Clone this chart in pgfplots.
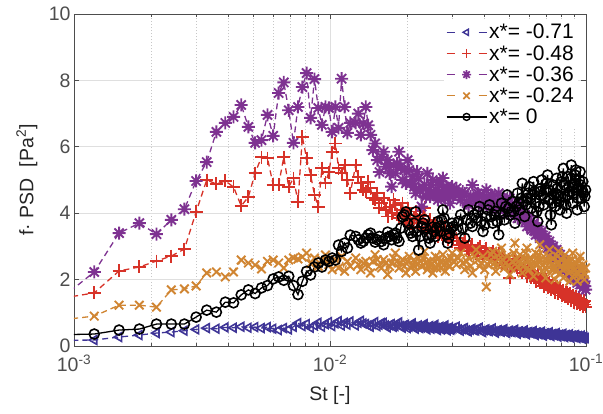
\documentclass[border=0pt]{standalone}
\usepackage{pgfplots}
\pgfplotsset{compat=1.18}
\usepackage{pgfplotstable}
\usepackage{fontspec}
\setmainfont{Liberation Sans}

\definecolor{cblue}{RGB}{62,52,150}
\definecolor{cred}{RGB}{215,50,40}
\definecolor{cpurple}{RGB}{126,50,145}
\definecolor{corange}{RGB}{208,133,50}
\definecolor{tickgray}{RGB}{77,77,77}
\definecolor{gridgray}{RGB}{223,223,223}

% 8-armed asterisk like the MATLAB '*' marker
\pgfdeclareplotmark{ast8}{%
  \pgfpathmoveto{\pgfqpoint{-\pgfplotmarksize}{0pt}}%
  \pgfpathlineto{\pgfqpoint{\pgfplotmarksize}{0pt}}%
  \pgfpathmoveto{\pgfqpoint{0pt}{-\pgfplotmarksize}}%
  \pgfpathlineto{\pgfqpoint{0pt}{\pgfplotmarksize}}%
  \pgfpathmoveto{\pgfqpoint{-0.707\pgfplotmarksize}{-0.707\pgfplotmarksize}}%
  \pgfpathlineto{\pgfqpoint{0.707\pgfplotmarksize}{0.707\pgfplotmarksize}}%
  \pgfpathmoveto{\pgfqpoint{-0.707\pgfplotmarksize}{0.707\pgfplotmarksize}}%
  \pgfpathlineto{\pgfqpoint{0.707\pgfplotmarksize}{-0.707\pgfplotmarksize}}%
  \pgfusepathqstroke}

% columns: St, x*=-0.71, -0.48, -0.36, -0.24, 0
\pgfplotstableread{
x b r p o k
0.0009 0.17 1.44 1.46 0.79 0.34
0.0012 0.18 1.60 2.23 0.90 0.36
0.0015 0.27 2.26 3.40 1.23 0.48
0.0018 0.33 2.38 3.70 1.23 0.51
0.0021 0.39 2.56 3.37 1.17 0.66
0.0024 0.42 2.71 3.80 1.69 0.66
0.0027 0.46 2.92 4.12 1.72 0.66
0.0030 0.50 4.04 4.97 1.81 0.87
0.0033 0.54 5.00 5.54 2.20 1.08
0.0036 0.52 4.88 6.45 2.23 1.02
0.0039 0.56 4.97 6.72 2.08 1.32
0.0042 0.55 4.79 6.90 2.23 1.30
0.0045 0.58 4.22 7.26 2.59 1.54
0.0048 0.55 4.49 6.60 2.50 1.69
0.0051 0.57 5.21 6.12 2.44 1.58
0.0054 0.54 5.69 6.20 2.32 1.75
0.0057 0.57 5.66 6.96 2.55 1.82
0.0060 0.52 4.85 6.33 2.59 2.02
0.0063 0.48 4.85 7.62 2.50 2.08
0.0066 0.54 5.69 7.94 2.35 1.98
0.0069 0.50 4.79 7.10 2.59 2.10
0.0072 0.58 5.06 6.12 2.65 1.82
0.0075 0.69 4.34 7.20 2.62 1.55
0.0078 0.60 6.30 7.80 2.68 1.95
0.0081 0.66 5.66 8.22 2.80 2.25
0.0084 0.55 5.15 6.87 2.48 2.14
0.0087 0.62 4.55 8.04 2.65 2.38
0.0090 0.70 4.19 7.17 2.40 2.50
0.0093 0.58 5.36 6.66 2.59 2.38
0.0096 0.66 4.91 7.20 2.74 2.59
0.0099 0.72 5.24 7.17 2.45 2.55
0.0102 0.60 5.84 6.45 2.30 2.65
0.0105 0.68 6.10 7.20 2.60 2.59
0.0108 0.75 5.36 6.57 2.35 3.04
0.0111 0.62 5.20 8.05 2.70 2.85
0.0114 0.70 5.45 7.20 2.25 3.10
0.0117 0.64 5.00 6.42 2.55 2.95
0.0120 0.74 4.60 6.72 2.40 3.34
0.0126 0.62 5.45 6.72 2.65 3.30
0.0129 0.70 5.10 7.00 2.45 3.20
0.0132 0.76 4.90 6.36 2.30 3.10
0.0135 0.68 4.70 6.70 2.50 3.15
0.0138 0.66 4.64 7.20 2.55 3.25
0.0141 0.62 4.95 6.65 2.40 3.35
0.0144 0.58 4.75 6.36 2.20 3.40
0.0147 0.66 4.45 5.90 2.55 3.25
0.0150 0.72 4.40 6.10 2.75 3.13
0.0153 0.60 4.60 5.60 2.60 3.20
0.0156 0.64 4.16 5.24 2.40 3.30
0.0159 0.69 4.30 5.70 2.35 3.15
0.0162 0.70 4.45 5.85 2.60 3.05
0.0165 0.62 4.10 5.40 2.50 3.25
0.0168 0.56 3.90 5.60 2.15 3.43
0.0171 0.63 4.20 5.20 2.40 3.30
0.0174 0.66 4.00 4.80 2.50 3.20
0.0177 0.58 4.40 5.45 2.65 3.35
0.0180 0.60 4.25 5.20 2.80 3.40
0.0183 0.66 3.95 5.50 2.55 3.25
0.0186 0.71 3.85 5.85 2.35 3.15
0.0189 0.60 4.10 5.40 2.50 3.55
0.0192 0.55 4.30 5.00 2.60 3.89
0.0195 0.62 3.90 5.30 2.40 3.95
0.0198 0.64 3.75 4.90 2.20 4.04
0.0201 0.54 4.15 5.60 2.55 3.70
0.0204 0.58 3.95 5.30 2.70 3.49
0.0207 0.63 3.70 4.90 2.35 3.40
0.0210 0.68 3.60 5.10 2.45 3.30
0.0213 0.58 3.85 4.80 2.60 3.70
0.0216 0.52 4.05 4.60 2.25 4.04
0.0219 0.59 3.80 5.25 2.45 3.45
0.0222 0.62 3.70 5.05 2.65 2.89
0.0225 0.54 3.95 4.70 2.55 3.30
0.0228 0.56 3.55 4.20 2.40 3.60
0.0231 0.62 3.90 4.75 2.65 3.70
0.0234 0.66 4.16 4.85 2.85 3.80
0.0237 0.56 3.60 4.50 2.50 3.55
0.0240 0.50 3.50 5.20 2.30 3.35
0.0243 0.57 3.75 4.70 2.40 3.25
0.0246 0.60 3.80 4.50 2.55 3.10
0.0249 0.52 3.55 4.85 2.45 3.35
0.0252 0.55 3.40 5.00 2.20 3.58
0.0255 0.60 3.70 4.60 2.55 3.45
0.0258 0.64 3.65 4.70 2.70 3.30
0.0261 0.54 3.45 4.55 2.35 3.55
0.0264 0.48 3.30 4.40 2.45 3.75
0.0267 0.55 3.50 4.85 2.65 3.60
0.0270 0.58 3.55 4.95 2.35 3.45
0.0273 0.50 3.40 4.60 2.50 3.80
0.0276 0.52 3.25 5.06 2.75 4.10
0.0279 0.58 3.45 4.50 2.45 3.85
0.0282 0.62 3.60 4.45 2.25 3.60
0.0285 0.52 3.30 4.80 2.50 3.35
0.0288 0.47 3.20 4.75 2.60 3.10
0.0291 0.53 3.40 4.55 2.40 3.25
0.0294 0.56 3.45 4.30 2.40 3.40
0.0297 0.49 3.30 4.65 2.65 3.55
0.0300 0.51 3.15 4.80 2.80 3.70
0.0303 0.54 3.25 4.50 2.55 3.60
0.0312 0.58 3.25 4.75 2.45 3.50
0.0318 0.50 3.05 4.55 2.65 3.75
0.0324 0.46 2.95 4.40 2.80 3.95
0.0330 0.51 3.10 4.65 2.50 3.55
0.0336 0.54 3.15 4.60 2.30 3.25
0.0342 0.47 2.95 4.30 2.55 3.80
0.0348 0.44 2.85 4.25 2.65 4.10
0.0354 0.49 3.00 4.50 2.40 3.70
0.0360 0.52 3.05 4.85 2.20 3.60
0.0366 0.48 2.85 4.45 2.70 3.95
0.0372 0.47 2.80 4.35 2.90 3.85
0.0378 0.52 2.95 4.60 2.60 4.05
0.0384 0.55 3.00 4.55 2.40 4.20
0.0390 0.45 2.80 4.30 2.50 3.75
0.0396 0.42 2.70 4.20 2.70 3.45
0.0402 0.48 2.85 4.45 2.30 3.65
0.0408 0.50 2.95 4.70 1.78 3.90
0.0414 0.46 2.75 4.40 2.45 4.10
0.0420 0.45 2.65 4.30 2.55 4.25
0.0426 0.50 2.80 4.55 2.75 3.90
0.0432 0.53 2.85 4.50 2.85 3.70
0.0438 0.44 2.70 4.25 2.50 3.95
0.0444 0.40 2.60 4.10 2.25 4.05
0.0450 0.46 2.72 4.35 2.45 3.75
0.0456 0.48 2.80 4.60 2.60 3.35
0.0462 0.45 2.62 4.30 2.80 3.95
0.0468 0.43 2.50 4.20 2.95 4.30
0.0474 0.48 2.65 4.45 2.60 4.00
0.0480 0.51 2.70 4.40 2.35 3.80
0.0486 0.42 2.55 4.15 2.50 4.20
0.0492 0.39 2.45 4.00 2.70 4.55
0.0498 0.44 2.62 4.30 2.40 4.15
0.0504 0.46 2.05 4.45 2.15 3.95
0.0510 0.43 2.45 4.20 2.35 4.05
0.0516 0.42 2.40 4.05 2.55 4.35
0.0522 0.46 2.50 4.10 2.80 4.05
0.0528 0.49 2.60 4.25 3.10 3.70
0.0534 0.41 2.42 4.05 2.60 4.20
0.0540 0.37 2.30 3.85 2.40 4.60
0.0546 0.43 2.45 4.00 2.55 4.30
0.0552 0.44 2.50 4.20 2.75 4.10
0.0558 0.40 2.32 3.95 2.45 4.45
0.0564 0.40 2.20 3.80 2.20 4.90
0.0570 0.44 2.35 3.85 2.40 4.35
0.0576 0.47 2.40 3.95 2.65 3.90
0.0582 0.39 2.22 3.75 2.80 4.25
0.0588 0.35 2.10 3.60 2.95 4.45
0.0594 0.41 2.28 3.80 2.60 4.60
0.0600 0.42 2.30 3.90 2.30 4.80
0.0606 0.40 2.15 3.65 2.45 4.45
0.0612 0.38 2.05 3.50 2.60 4.15
0.0618 0.42 2.18 3.62 2.35 4.55
0.0624 0.45 2.20 3.70 2.10 4.95
0.0630 0.37 2.05 3.50 2.50 4.65
0.0636 0.33 1.95 3.35 2.80 4.30
0.0642 0.40 2.10 3.52 2.65 4.05
0.0648 0.40 2.15 3.60 2.45 3.75
0.0654 0.36 1.98 3.40 2.75 4.20
0.0660 0.36 1.90 3.25 3.05 4.65
0.0666 0.39 2.02 3.38 2.60 4.75
0.0672 0.43 2.05 3.45 2.25 5.00
0.0678 0.35 1.90 3.25 2.45 4.55
0.0684 0.31 1.80 3.10 2.70 4.25
0.0690 0.37 1.95 3.22 2.35 4.45
0.0696 0.38 2.00 3.30 2.05 4.70
0.0702 0.36 1.85 3.10 2.30 4.90
0.0708 0.34 1.75 2.95 2.55 5.15
0.0714 0.38 1.88 3.08 2.70 4.70
0.0720 0.41 1.90 3.15 2.90 4.40
0.0726 0.33 1.78 2.95 2.55 3.95
0.0732 0.30 1.70 2.80 2.30 3.65
0.0738 0.35 1.82 2.92 2.45 4.30
0.0744 0.36 1.85 3.00 2.65 4.85
0.0750 0.34 1.72 2.85 2.30 4.55
0.0756 0.32 1.62 2.70 2.00 4.20
0.0762 0.36 1.75 2.82 2.25 4.60
0.0768 0.39 1.80 2.90 2.50 5.05
0.0774 0.32 1.66 2.70 2.70 4.75
0.0780 0.28 1.58 2.55 2.85 4.55
0.0786 0.33 1.70 2.68 2.50 4.35
0.0792 0.34 1.72 2.75 2.20 4.10
0.0798 0.31 1.60 2.58 2.40 4.50
0.0804 0.30 1.52 2.45 2.60 4.95
0.0810 0.34 1.64 2.55 2.30 5.10
0.0816 0.37 1.68 2.60 2.05 5.35
0.0822 0.30 1.55 2.45 2.50 4.85
0.0828 0.27 1.48 2.30 2.75 4.50
0.0834 0.32 1.60 2.42 2.55 4.25
0.0840 0.33 1.62 2.50 2.35 4.00
0.0846 0.29 1.50 2.35 2.45 4.55
0.0852 0.29 1.42 2.20 2.55 5.10
0.0858 0.32 1.54 2.32 2.20 4.80
0.0864 0.35 1.58 2.40 1.95 4.65
0.0870 0.28 1.45 2.22 2.25 5.05
0.0876 0.25 1.38 2.10 2.45 5.45
0.0882 0.30 1.50 2.22 2.60 4.85
0.0888 0.31 1.52 2.30 2.80 4.30
0.0894 0.29 1.40 2.12 2.45 4.60
0.0900 0.27 1.32 2.00 2.15 4.90
0.0906 0.31 1.44 2.12 2.30 5.15
0.0912 0.33 1.48 2.20 2.50 5.30
0.0918 0.29 1.36 2.02 2.20 4.70
0.0924 0.24 1.28 1.90 1.95 4.10
0.0930 0.28 1.40 2.05 2.15 4.45
0.0936 0.30 1.44 2.10 2.40 4.75
0.0942 0.26 1.32 1.95 2.55 5.00
0.0948 0.26 1.24 1.85 2.70 5.25
0.0954 0.27 1.36 1.98 2.35 4.85
0.0960 0.31 1.40 2.00 2.10 4.45
0.0966 0.25 1.28 1.88 2.30 4.70
0.0972 0.22 1.20 1.75 2.45 4.95
0.0978 0.27 1.32 1.90 2.20 4.60
0.0984 0.28 1.36 1.95 2.00 4.20
0.0990 0.24 1.25 1.80 2.15 4.50
0.0996 0.24 1.18 1.70 2.35 4.70
}\psd

\begin{document}
\begin{tikzpicture}
\useasboundingbox (-74pt,-67pt) rectangle (529pt,346pt);
\begin{axis}[
    scale only axis,
    width=512pt, height=332pt,
    xmode=log,
    xmin=1e-3, xmax=1e-1,
    ymin=0, ymax=10,
    xtick={0.001,0.01,0.1},
    xticklabels={10\textsuperscript{-3},10\textsuperscript{-2},10\textsuperscript{-1}},
    ytick={0,2,4,6,8,10},
    /pgf/number format/assume math mode=true,
    xmajorgrids, xminorgrids, ymajorgrids,
    major grid style={gridgray, line width=0.7pt},
    minor grid style={black!22, dash pattern=on 0.8pt off 2.2pt, line width=0.5pt},
    tick align=inside,
    major tick length=5pt, minor tick length=3pt,
    axis line style={tickgray, line width=0.8pt},
    tick style={tickgray, line width=0.8pt},
    ticklabel style={font=\fontsize{19.5}{22}\selectfont, text=tickgray},
    xticklabel style={yshift=-5pt},
    label style={font=\fontsize{19.5}{22}\selectfont, text=black!85},
    xlabel={St [-]},
    ylabel={f\textperiodcentered\ PSD\ \ [Pa\textsuperscript{2}]},
    xlabel style={at={(axis description cs:0.5,-0.148)}, anchor=center},
    ylabel style={at={(axis description cs:-0.092,0.5)}, anchor=center},
]
\addplot[cblue, line width=1.3pt, dash pattern=on 6pt off 4pt,
    mark=triangle, mark size=5pt, mark options={solid, rotate=90, line width=1.6pt}]
    table[x=x, y=b] {\psd};
\addplot[cred, line width=1.3pt, dash pattern=on 6pt off 4pt,
    mark=+, mark size=6.5pt, mark options={solid, line width=1.9pt}]
    table[x=x, y=r] {\psd};
\addplot[cpurple, line width=1.3pt, dash pattern=on 6pt off 4pt,
    mark=ast8, mark size=6.5pt, mark options={solid, line width=1.9pt}]
    table[x=x, y=p] {\psd};
\addplot[corange, line width=1.3pt, dash pattern=on 6pt off 4pt,
    mark=x, mark size=6pt, mark options={solid, line width=1.9pt}]
    table[x=x, y=o] {\psd};
\addplot[black, line width=1.3pt, mark=o, mark size=5pt, mark options={line width=1.6pt}]
    table[x=x, y=k] {\psd};
\end{axis}
\begin{axis}[
    scale only axis,
    width=512pt, height=332pt,
    xmode=log, xmin=1e-3, xmax=1e-1, ymin=0, ymax=10,
    hide axis,
    legend style={at={(rel axis cs:1,1)}, anchor=north east, draw=none, fill=white,
        font=\fontsize{21}{23}\selectfont, row sep=1pt, inner sep=2pt,
        nodes={inner xsep=2pt}, xshift=-8pt, yshift=-6pt},
    legend cell align=left,
    legend image code/.code={%
        \draw[mark repeat=2, mark phase=2] plot coordinates {(0pt,0pt) (20pt,0pt) (40pt,0pt)};},
]
\addlegendimage{cblue, line width=1.2pt, dash pattern=on 8pt off 24pt,
    mark=triangle, mark size=3.5pt, mark options={solid, rotate=90, line width=1.4pt}}
\addlegendentry{x*= -0.71}
\addlegendimage{cred, line width=1.2pt, dash pattern=on 8pt off 24pt,
    mark=+, mark size=4.5pt, mark options={solid, line width=1.7pt}}
\addlegendentry{x*= -0.48}
\addlegendimage{cpurple, line width=1.2pt, dash pattern=on 8pt off 24pt,
    mark=ast8, mark size=4.5pt, mark options={solid, line width=1.7pt}}
\addlegendentry{x*= -0.36}
\addlegendimage{corange, line width=1.2pt, dash pattern=on 8pt off 24pt,
    mark=x, mark size=4.5pt, mark options={solid, line width=1.7pt}}
\addlegendentry{x*= -0.24}
\addlegendimage{black, line width=1.2pt, mark=o, mark size=3.5pt, mark options={line width=1.4pt}}
\addlegendentry{x*= 0}
\end{axis}
\end{tikzpicture}
\end{document}
